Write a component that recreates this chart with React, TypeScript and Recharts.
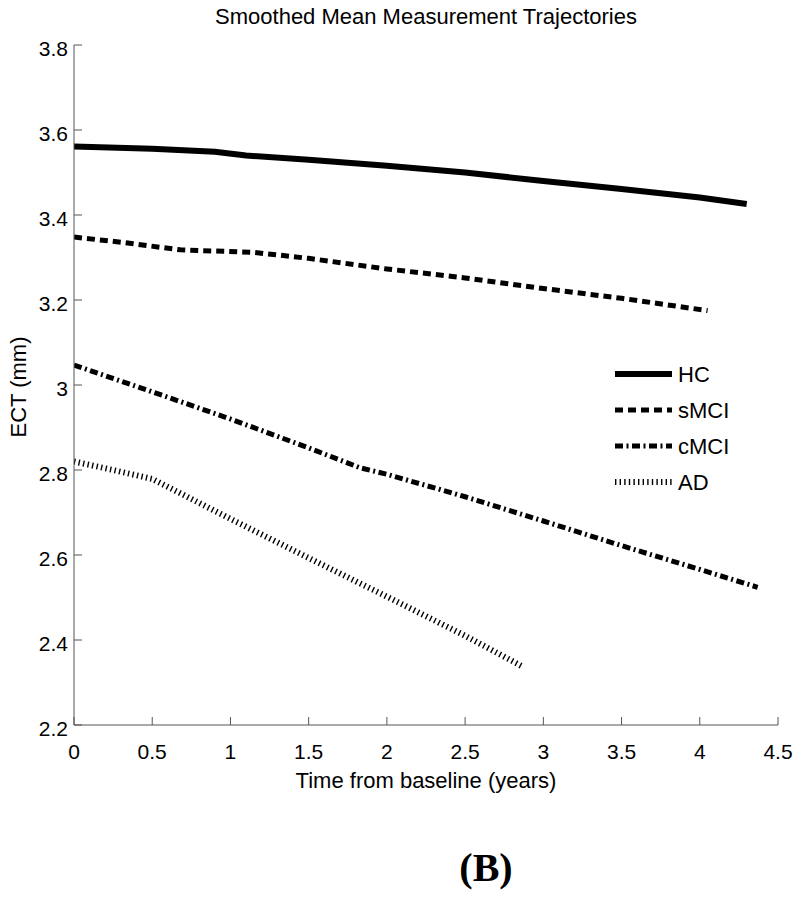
import { LineChart, Line, XAxis, YAxis, Legend, Label } from 'recharts';

const xTicks = [0, 0.5, 1, 1.5, 2, 2.5, 3, 3.5, 4, 4.5];
const yTicks = [2.2, 2.4, 2.6, 2.8, 3, 3.2, 3.4, 3.6, 3.8];

const hcTime = [0, 0.5, 0.9, 1.1, 1.5, 2, 2.5, 3, 3.5, 4, 4.3];
const hcEct = [3.561, 3.556, 3.549, 3.54, 3.53, 3.516, 3.5, 3.48, 3.461, 3.441, 3.426];

const smciTime = [0, 0.3, 0.68, 1.15, 1.5, 2, 2.5, 3, 3.5, 4.05];
const smciEct = [3.348, 3.336, 3.318, 3.312, 3.298, 3.273, 3.252, 3.227, 3.204, 3.175];

const cmciTime = [0, 0.5, 1, 1.5, 1.83, 2, 2.5, 3, 3.5, 4, 4.37];
const cmciEct = [3.047, 2.984, 2.92, 2.852, 2.805, 2.79, 2.737, 2.68, 2.622, 2.566, 2.524];

const adTime = [0, 0.25, 0.5, 1, 1.5, 2, 2.5, 2.87];
const adEct = [2.82, 2.8, 2.779, 2.685, 2.593, 2.502, 2.41, 2.337];

const toPoints = (t: number[], v: number[]) => t.map((x, i) => ({ x, y: v[i] }));

const series = [
  { name: 'HC', data: toPoints(hcTime, hcEct), width: 6, dash: undefined },
  { name: 'sMCI', data: toPoints(smciTime, smciEct), width: 5, dash: '8 5' },
  { name: 'cMCI', data: toPoints(cmciTime, cmciEct), width: 5, dash: '8 3.5 2 3.5' },
  { name: 'AD', data: toPoints(adTime, adEct), width: 6, dash: '1.4 3.2' },
];

const font = '"Liberation Sans", Arial, sans-serif';
const axisColor = '#555';

function XTick(props: any) {
  const { x, y, payload } = props;
  return (
    <g>
      <line x1={x} y1={y} x2={x} y2={y - 8} stroke={axisColor} />
      <text x={x} y={y + 34} textAnchor="middle" fontSize={21} fontFamily={font} fill="#000">
        {payload.value}
      </text>
    </g>
  );
}

function YTick(props: any) {
  const { x, y, payload } = props;
  return (
    <g>
      <line x1={x} y1={y} x2={x + 8} y2={y} stroke={axisColor} />
      <text x={x - 6} y={y + 11} textAnchor="end" fontSize={21} fontFamily={font} fill="#000">
        {payload.value}
      </text>
    </g>
  );
}

function LegendBox() {
  return (
    <svg width={150} height={150}>
      {series.map((s, i) => (
        <g key={s.name}>
          <line
            x1={3}
            x2={60}
            y1={12 + 36 * i}
            y2={12 + 36 * i}
            stroke="#000"
            strokeWidth={s.width}
            strokeDasharray={s.dash}
          />
          <text x={66} y={12 + 36 * i + 8} fontSize={22} fontFamily={font} fill="#000">
            {s.name}
          </text>
        </g>
      ))}
    </svg>
  );
}

export default function App() {
  return (
    <div style={{ position: 'absolute', left: 0, top: 0, width: 800, height: 897, background: '#fff' }}>
      <div
        style={{
          position: 'absolute',
          left: 0,
          width: 852,
          top: 4,
          textAlign: 'center',
          fontFamily: font,
          fontSize: 22,
          lineHeight: '26px',
        }}
      >
        Smoothed Mean Measurement Trajectories
      </div>
      <LineChart width={800} height={897} margin={{ top: 45, right: 22, bottom: 102, left: 20 }}>
        <XAxis
          type="number"
          dataKey="x"
          domain={[0, 4.5]}
          ticks={xTicks}
          height={70}
          tickSize={0}
          tickMargin={0}
          tickLine={false}
          stroke={axisColor}
          tick={<XTick />}
          allowDataOverflow
        >
          <Label
            content={({ viewBox }: any) => (
              <text
                x={viewBox.x + viewBox.width / 2}
                y={viewBox.y + 63}
                textAnchor="middle"
                fontSize={22}
                fontFamily={font}
                fill="#000"
              >
                Time from baseline (years)
              </text>
            )}
          />
        </XAxis>
        <YAxis
          type="number"
          dataKey="y"
          domain={[2.2, 3.8]}
          ticks={yTicks}
          width={54}
          tickSize={0}
          tickMargin={0}
          tickLine={false}
          stroke={axisColor}
          tick={<YTick />}
          allowDataOverflow
        >
          <Label
            content={({ viewBox }: any) => {
              const cx = viewBox.x + 6;
              const cy = viewBox.y + viewBox.height / 2 + 2;
              return (
                <text
                  x={cx}
                  y={cy}
                  transform={`rotate(-90, ${cx}, ${cy})`}
                  textAnchor="middle"
                  fontSize={22}
                  fontFamily={font}
                  fill="#000"
                >
                  ECT (mm)
                </text>
              );
            }}
          />
        </YAxis>
        <Legend
          layout="vertical"
          align="center"
          verticalAlign="middle"
          content={<LegendBox />}
          wrapperStyle={{ position: 'absolute', left: 612, top: 362, width: 150 }}
        />
        {series.map((s) => (
          <Line
            key={s.name}
            data={s.data}
            dataKey="y"
            name={s.name}
            type="linear"
            stroke="#000"
            strokeWidth={s.width}
            strokeDasharray={s.dash}
            dot={false}
            activeDot={false}
            isAnimationActive={false}
            legendType="line"
          />
        ))}
      </LineChart>
      <div
        style={{
          position: 'absolute',
          left: 486 - 60,
          width: 120,
          top: 846,
          textAlign: 'center',
          fontFamily: '"Liberation Serif", "Times New Roman", serif',
          fontWeight: 'bold',
          fontSize: 40,
          lineHeight: '44px',
        }}
      >
        (B)
      </div>
    </div>
  );
}
